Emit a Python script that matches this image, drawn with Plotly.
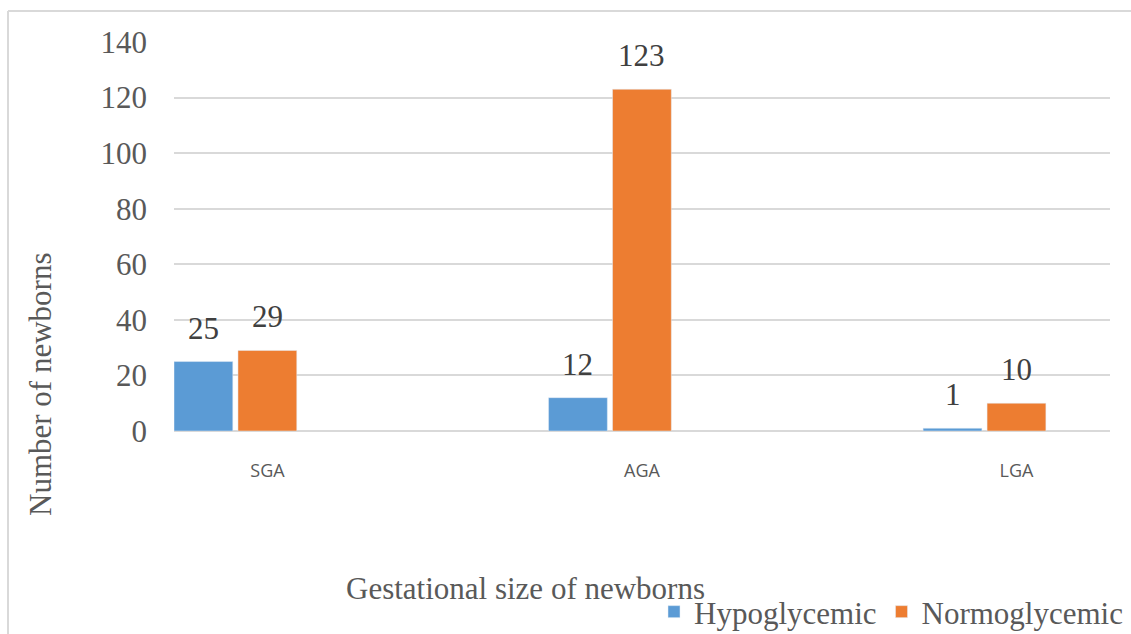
import plotly.graph_objects as go

categories = ["SGA", "AGA", "LGA"]
hypo = [25, 12, 1]
normo = [29, 123, 10]
series_names = ["Hypoglycemic", "Normoglycemic"]
y_ticks = [0, 20, 40, 60, 80, 100, 120, 140]

W, H = 1131, 634
L, R, T, B = 174, 21, 42, 203
pw, ph = W - L - R, H - T - B

def px_x(p):
    return (p - L) / pw

def px_y(p):
    return (H - B - p) / ph

bar_w = 0.157
off_hypo = -0.2495
off_normo = -0.0787

SERIF = "Liberation Serif, Times New Roman, serif"
FS = 31
fig = go.Figure()
fig.add_trace(go.Bar(x=categories, y=hypo, name=series_names[0], marker_color="#5B9BD5",
                     width=bar_w, offset=off_hypo))
fig.add_trace(go.Bar(x=categories, y=normo, name=series_names[1], marker_color="#ED7D31",
                     width=bar_w, offset=off_normo))

anns = []
for i, (h, n) in enumerate(zip(hypo, normo)):
    anns.append(dict(x=i + off_hypo + bar_w / 2, y=h, text=str(h), showarrow=False,
                     yanchor="bottom", yshift=14, font=dict(family=SERIF, size=FS, color="#404040")))
    anns.append(dict(x=i + off_normo + bar_w / 2, y=n, text=str(n), showarrow=False,
                     yanchor="bottom", yshift=14, font=dict(family=SERIF, size=FS, color="#404040")))

anns.append(dict(xref="paper", yref="paper", x=px_x(40), y=px_y(385), text="Number of newborns",
                 textangle=-90, showarrow=False, xanchor="center", yanchor="middle",
                 font=dict(family=SERIF, size=FS, color="#595959")))
anns.append(dict(xref="paper", yref="paper", x=px_x(525), y=px_y(588), text="Gestational size of newborns",
                 showarrow=False, xanchor="center", yanchor="middle",
                 font=dict(family=SERIF, size=FS, color="#595959")))

shapes = [
    dict(type="line", xref="paper", yref="paper", x0=px_x(8), x1=px_x(1135), y0=px_y(11), y1=px_y(11),
         line=dict(color="#D9D9D9", width=2)),
    dict(type="line", xref="paper", yref="paper", x0=px_x(8), x1=px_x(8), y0=px_y(11), y1=px_y(640),
         line=dict(color="#D9D9D9", width=2)),
]

fig.update_layout(
    width=W, height=H,
    margin=dict(l=L, r=R, t=T, b=B, pad=0, autoexpand=False),
    paper_bgcolor="white", plot_bgcolor="white",
    barmode="overlay",
    showlegend=True,
    legend=dict(orientation="h", x=px_x(1128), xanchor="right", y=px_y(612), yanchor="middle",
                font=dict(family=SERIF, size=FS, color="#595959"), itemwidth=30,
                bgcolor="rgba(0,0,0,0)", tracegroupgap=0),
    annotations=anns,
    shapes=shapes,
    xaxis=dict(range=[-0.2495, 2.2495], showgrid=False, zeroline=False, showline=False,
               ticks="", ticklabelstandoff=27,
               tickfont=dict(family="Open Sans, sans-serif", size=18, color="#595959")),
    yaxis=dict(range=[0, 140], tickvals=y_ticks, showgrid=True, gridcolor="#D9D9D9", gridwidth=1.5,
               zeroline=True, zerolinecolor="#D9D9D9", zerolinewidth=1.5, showline=False,
               ticks="", ticklabelstandoff=26,
               tickfont=dict(family=SERIF, size=FS, color="#595959")),
)

fig.write_html("out.html", config={"displayModeBar": False},
               post_script="document.body.style.margin='0';document.body.style.overflow='hidden';")
